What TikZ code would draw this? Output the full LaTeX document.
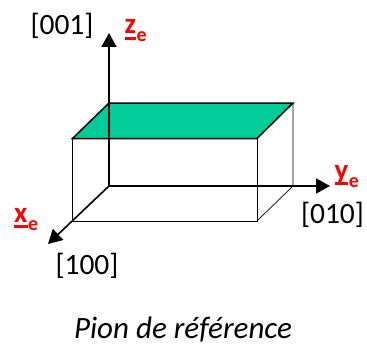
\documentclass[tikz,border=0pt]{standalone}
\usepackage{fontspec}
\setmainfont{Carlito}
\usetikzlibrary{arrows.meta}
\definecolor{topgreen}{RGB}{0,204,153}
\tikzset{
  axis/.style={line width=1.6pt,draw=black,-{Triangle[length=14pt,width=15pt]}},
  thickedge/.style={line width=1.5pt,draw=black,line join=miter},
  thinedge/.style={line width=0.7pt,draw=black},
  lbl/.style={inner sep=0pt,anchor=base,font=\fontsize{29.5}{30}\selectfont},
  caplbl/.style={inner sep=0pt,anchor=base,font=\fontsize{31}{32}\selectfont\itshape},
  axlbl/.style={inner sep=0pt,anchor=base west,text=red,font=\fontsize{29}{30}\selectfont\bfseries},
}
\newlength{\axw}
\newcommand{\axname}[2]{\settowidth{\axw}{#1}\rlap{\rule[-5.8pt]{\axw}{2.6pt}}#1\kern0.5pt\raisebox{-8pt}{\fontsize{20}{20}\selectfont #2}}
\begin{document}
\begin{tikzpicture}[x=1pt,y=-1pt]
\useasboundingbox (0,0) rectangle (367,345);
\coordinate (O) at (109,186);
\coordinate (Z) at (109,33);
\coordinate (Y) at (330,186);
\coordinate (X) at (48,244);
\coordinate (ftl) at (72.5,138.5);
\coordinate (ftr) at (257,138.5);
\coordinate (btl) at (109,103);
\coordinate (btr) at (293,103);
\coordinate (fbl) at (72.5,221);
\coordinate (fbr) at (257,221);
\coordinate (bbr) at (293,186);
\fill[topgreen] (ftl) -- (btl) -- (btr) -- (ftr) -- cycle;
\draw[thinedge] (ftl) -- (fbl) -- (fbr) -- (ftr);
\draw[thinedge] (btr) -- (bbr) -- (fbr);
\draw[axis] (O) -- (Z);
\draw[axis] (O) -- (Y);
\draw[axis] (O) -- (X);
\draw[thickedge] (ftl) -- (btl) -- (btr) -- (ftr) -- cycle;
\node[lbl] (n001) at (62,35) {[001]};
\node[lbl] (n010) at (332.5,223) {[010]};
\node[lbl] (n100) at (87,274) {[100]};
\node[axlbl] (lz) at (124.5,34) {\axname{z}{e}};
\node[axlbl] (ly) at (334.5,179) {\axname{y}{e}};
\node[axlbl] (lx) at (14,222) {\axname{x}{e}};
\node[caplbl] (cap) at (183,338) {Pion de référence};
\end{tikzpicture}
\end{document}
